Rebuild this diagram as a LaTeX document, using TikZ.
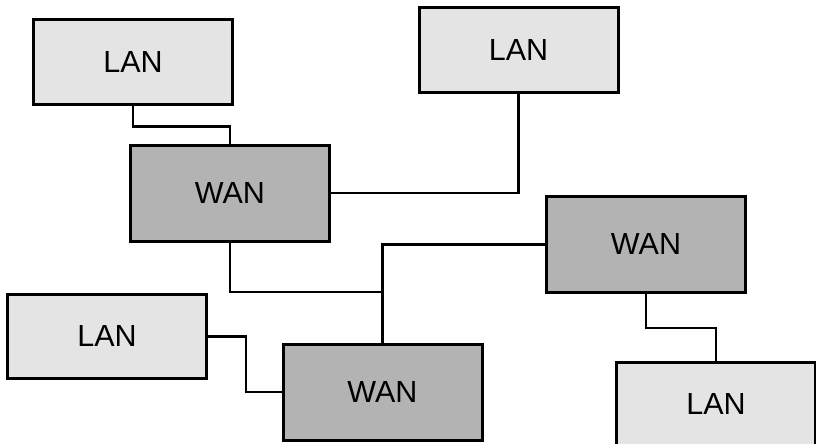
\documentclass[tikz,border=0pt]{standalone}
\usepackage{fontspec}
\setmainfont{Liberation Sans}
\definecolor{lanfill}{HTML}{E4E4E4}
\definecolor{wanfill}{HTML}{B3B3B3}
\tikzset{
  netbox/.style={draw=black, line width=3pt, rectangle, inner sep=0pt,
    minimum width=199pt, font=\fontsize{30.5}{36}\selectfont},
  lanbox/.style={netbox, fill=lanfill, minimum height=84pt},
  wanbox/.style={netbox, fill=wanfill, minimum height=96pt},
  link/.style={draw=black, line width=2.6pt}
}
\begin{document}
\begin{tikzpicture}[x=1pt, y=-1pt]
  \useasboundingbox (0,0) rectangle (816,444);
  % networks
  \node[lanbox] (L1) at (133,62)    {LAN};
  \node[lanbox] (L2) at (518.5,50)  {LAN};
  \node[wanbox] (W1) at (230,193)   {WAN};
  \node[wanbox] (W2) at (646,244.5) {WAN};
  \node[lanbox] (L3) at (107,336.5) {LAN};
  \node[wanbox] (W3) at (382.5,392) {WAN};
  \node[lanbox] (L4) at (716,404)   {LAN};
  % junction where the first WAN joins the trunk
  \coordinate (J) at (W3.north |- 0,292);
  % links
  \draw[link] (L1.south) -- ++(0,21) -| (W1.north);
  \draw[link] (W1.east) -| (L2.south);
  \draw[link] (W2.west) -| (W3.north);
  \draw[link] (W1.south) |- (J);
  \draw[link] (L3.east) -- ++(38,0) |- (W3.west);
  \draw[link] (W2.south) -- ++(0,34) -| (L4.north);
\end{tikzpicture}
\end{document}
